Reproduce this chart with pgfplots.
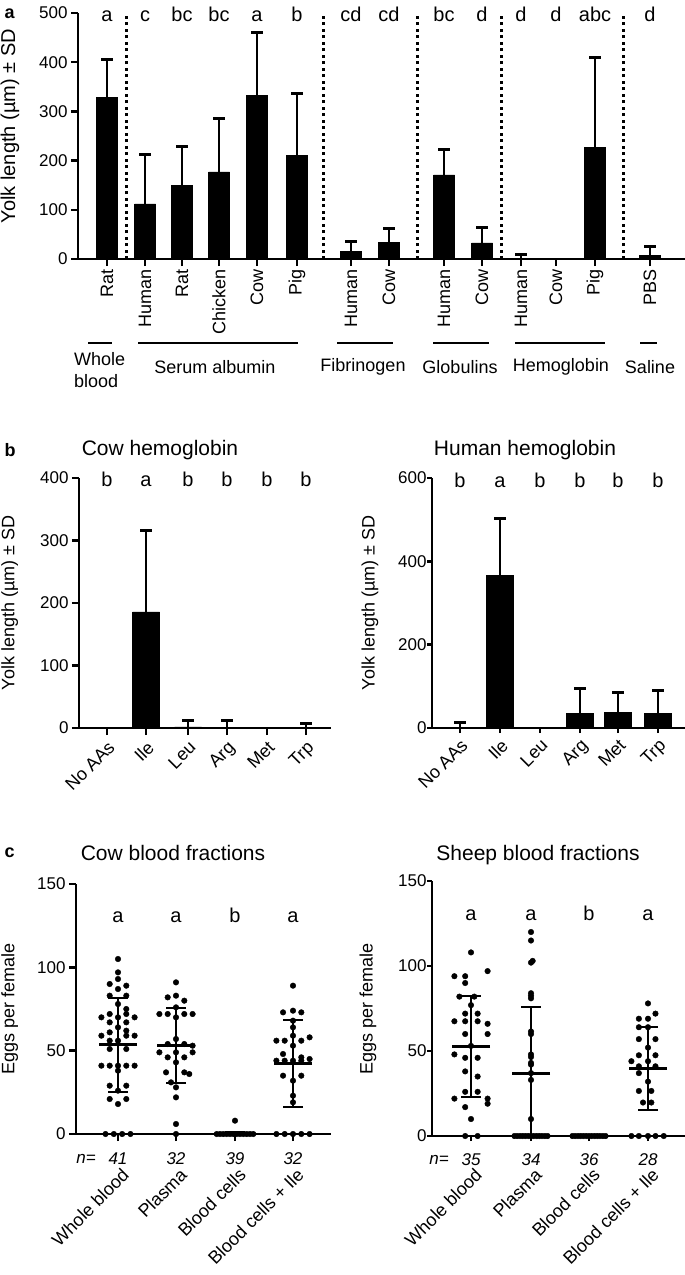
\documentclass[border=0pt]{standalone}
\usepackage{fontspec}
\setmainfont{Liberation Sans}
\usepackage{pgfplots}
\usepackage{pgfplotstable}
\pgfplotsset{compat=1.18}

\newcommand\tickfont{\fontsize{17}{20}\selectfont}
\newcommand\labfont{\fontsize{18}{22}\selectfont}
\newcommand\letfont{\fontsize{20}{24}\selectfont}
\newcommand\titfont{\fontsize{21}{25}\selectfont}

% scatter data: k = horizontal jitter step, v = eggs per female
\pgfplotstableread{
k v
0 105
0 97
0 93
-1 90
1 89
0 87
-1 83
1 83
0 78
1 75
-2 70
-1 72
0 70
1 72
2 70
-1 67
1 67
0 64
-1 61
1 62
-2 59
1 59
2 59
-1 56
0 56
-1 51
1 51
-2 41
-1 41
0 41
1 41
2 41
0 38
-1 29
1 29
0 26
-1 21
1 21
0 18
-1.5 0
-0.5 0
0.5 0
1.5 0
}\cowWB
\pgfplotstableread{
k v
0 91
0 83
-1 82
1 80
0 76
-2 72
-1 72
1 72
2 72
0 70
0 57
-1 54
1 54
2 53
-2 49
0 49
2 49
-1 46
1 46
0 43
-1.2 37
1 37
1.6 36
-0.6 31
0 28
0 22
0 6
0 0
}\cowPL
\pgfplotstableread{
k v
0 8
-2.2 0
-1.8 0
-1.4 0
-1 0
-0.6 0
-0.2 0
0.2 0
0.6 0
1 0
1.4 0
1.8 0
2.2 0
}\cowBC
\pgfplotstableread{
k v
0 89
-1.2 73
0 74
1 73
0 68
0 64
0 59
2 58
-2 56
-1 56
1 56
0 53
-1.2 48
1 46
-2 44
-1 44
0 44
1 44
2 45
-1.2 35
1 35
0 32
0 23
0 19
-2 0
-1 0
0 0
1 0
2 0
}\cowBI
\pgfplotstableread{
k v
0 108
2 97
-2 94
-0.7 94
-0.7 90
-1.4 82
0.4 82
0 77
-0.7 72
0.8 72
-2 67.5
-0.7 67.5
0.8 67.5
2 66
-0.7 60
2 60
0 53
-2 48
-0.7 46
0.8 46
-0.7 38
0.8 35
-0.7 26
0.8 26
-2 22
2 22
2 19
-0.7 17
0 10
-0.7 0
0.8 0
}\shWB
\pgfplotstableread{
k v
0 120
0 115
0.2 103
0 102
0 84
0 82.5
0 81
0 61.5
0 60
0 48
0 46.5
0 43
0 42
0 37
0 33
0 10
-2 0
-1.67 0
-1.33 0
-1 0
-0.67 0
-0.33 0
0 0
0.33 0
0.67 0
1 0
1.33 0
1.67 0
2 0
}\shPL
\pgfplotstableread{
k v
-2 0
-1.67 0
-1.33 0
-1 0
-0.67 0
-0.33 0
0 0
0.33 0
0.67 0
1 0
1.33 0
1.67 0
2 0
}\shBC
\pgfplotstableread{
k v
0 78
0.9 72
-1.1 69
0 69
-1.1 64
0 64
-1.1 57
0.9 57
0 52
-1.1 47.5
0.9 47.5
-2 44
0 44
-1.1 41
0.9 41
-1.1 37
0 32
-1.1 26.5
0.4 26.5
-0.6 19.7
0.4 19.7
-2 0
-1.1 0
0 0
0.9 0
1.9 0
}\shBI

\pgfplotsset{
  panel/.style={
    scale only axis, anchor=south west, clip=false,
    axis x line*=bottom, axis y line*=left,
    axis line style={line width=2.5pt},
    tick align=outside, major tick length=7pt,
    tick style={black, line width=2.5pt},
    /pgf/number format/assume math mode=true,
    tick label style={font=\tickfont},
    ylabel style={font=\labfont, anchor=center},
  },
  barsd/.style={ybar, fill=black, draw=black,
    error bars/.cd, y dir=plus, y explicit,
    error bar style={line width=2.2pt},
    error mark options={rotate=90, line width=3pt, mark size=6pt}},
  dots/.style={only marks, mark=*, mark size=2.8pt, black},
  meansd/.style={only marks, mark=-, mark size=19pt, black,
    mark options={line width=3pt},
    error bars/.cd, y dir=both, y explicit,
    error bar style={line width=2pt},
    error mark options={rotate=90, line width=2pt, mark size=10pt}},
}

\begin{document}
\begin{tikzpicture}
\useasboundingbox (0,0) rectangle (685pt,-1275pt);

% ---------------- panel a
\begin{axis}[panel, at={(78pt,-259pt)}, width=607pt, height=246pt,
  xmin=78, xmax=685, ymin=0, ymax=500,
  ytick={0,100,...,500},
  xtick={107,145,182,219,257,297,351,389,444,482,521,556,595,650},
  xticklabels={Rat,Human,Rat,Chicken,Cow,Pig,Human,Cow,Human,Cow,Human,Cow,Pig,PBS},
  xticklabel style={font=\labfont, rotate=90, anchor=east},
  ylabel={Yolk length (µm) ± SD},
  ylabel style={font=\fontsize{20}{24}\selectfont, at={(axis description cs:-0.112,0.54)}},
]
\addplot[bar width=21pt, barsd] coordinates {
  (107,328) +- (0,77)
  (145,112) +- (0,100)
  (182,150) +- (0,79)
  (219,177) +- (0,109)
  (257,333) +- (0,127)
  (297,211) +- (0,126)
  (351,16) +- (0,20)
  (389,34) +- (0,28)
  (444,171) +- (0,52)
  (482,33) +- (0,32)
  (521,1) +- (0,8)
  (595,227) +- (0,183)
  (650,7) +- (0,19)
};
\addplot[ybar, bar width=21pt, fill=black, draw=black] coordinates {(556,0)};
\foreach \s in {126,323,417,501,623}{
  \edef\tmp{\noexpand\draw[line width=3pt, dash pattern=on 3pt off 3.5pt] (axis cs:\s,0) -- (axis cs:\s,500);}
  \tmp
}
\foreach \x/\l in {107/a,145/c,182/bc,219/bc,257/a,297/b,351/cd,389/cd,444/bc,482/d,521/d,556/d,595/abc,650/d}{
  \edef\tmp{\noexpand\node[font=\noexpand\letfont, anchor=base] at (axis cs:\x,483) {\l};}
  \tmp
}
\end{axis}

\node[font=\labfont\bfseries, anchor=west] at (1pt,-14pt) {a};
\foreach \a/\b in {88/112,138/298,337/393,433/489,515/605,640/657}
  \draw[line width=2.5pt] (\a pt,-343pt) -- (\b pt,-343pt);
\node[font=\labfont, align=left, anchor=north west, inner sep=0pt] at (74pt,-352pt) {Whole\\blood};
\foreach \x/\l in {215/Serum albumin,363/Fibrinogen,460/Globulins,561/Hemoglobin,650/Saline}
  \node[font=\labfont] at (\x pt,-367pt) {\l};

% ---------------- panel b
\node[font=\labfont\bfseries, anchor=west] at (1pt,-450pt) {b};
\node[font=\titfont] at (160pt,-450pt) {Cow hemoglobin};
\node[font=\titfont] at (525pt,-450pt) {Human hemoglobin};

\begin{axis}[panel, at={(79pt,-728pt)}, width=252pt, height=250pt,
  xmin=79, xmax=331, ymin=0, ymax=400,
  ytick={0,100,...,400},
  xtick={107,146,188,227,267,306},
  xticklabels={No AAs,Ile,Leu,Arg,Met,Trp},
  xticklabel style={font=\labfont, rotate=45, anchor=north east},
  ylabel={Yolk length (µm) ± SD},
  ylabel style={at={(axis description cs:-0.275,0.5)}},
]
\addplot[bar width=27pt, barsd] coordinates {
  (146,186) +- (0,130)
  (188,2) +- (0,10)
  (227,1) +- (0,11)
  (306,1) +- (0,6)
};
\addplot[ybar, bar width=27pt, fill=black, draw=black] coordinates {(107,0) (267,0)};
\foreach \x/\l in {107/b,146/a,188/b,227/b,267/b,306/b}{
  \edef\tmp{\noexpand\node[font=\noexpand\letfont, anchor=base] at (axis cs:\x,386) {\l};}
  \tmp
}
\end{axis}

\begin{axis}[panel, at={(432pt,-728pt)}, width=253pt, height=250pt,
  xmin=432, xmax=685, ymin=0, ymax=600,
  ytick={0,200,400,600},
  major tick length=5pt,
  yticklabel style={xshift=3pt},
  xtick={460,500,540,580,618,658},
  xticklabels={No AAs,Ile,Leu,Arg,Met,Trp},
  xticklabel style={font=\labfont, rotate=45, anchor=north east},
  ylabel={Yolk length (µm) ± SD},
  ylabel style={at={(axis description cs:-0.245,0.5)}},
]
\addplot[bar width=27pt, barsd] coordinates {
  (460,0) +- (0,13)
  (500,366) +- (0,136)
  (580,36) +- (0,60)
  (618,38) +- (0,48)
  (658,36) +- (0,54)
};
\addplot[ybar, bar width=27pt, fill=black, draw=black] coordinates {(540,0)};
\foreach \x/\l in {460/b,500/a,540/b,580/b,618/b,658/b}{
  \edef\tmp{\noexpand\node[font=\noexpand\letfont, anchor=base] at (axis cs:\x,578) {\l};}
  \tmp
}
\end{axis}

% ---------------- panel c
\node[font=\labfont\bfseries, anchor=west] at (1pt,-853pt) {c};
\node[font=\titfont] at (173pt,-853pt) {Cow blood fractions};
\node[font=\titfont] at (538pt,-855pt) {Sheep blood fractions};

\begin{axis}[panel, at={(76pt,-1134pt)}, width=255pt, height=250pt,
  xmin=76, xmax=331, ymin=0, ymax=150,
  ytick={0,50,100,150},
  xtick={118,176,235,293},
  xticklabels={Whole blood,Plasma,Blood cells,Blood cells + Ile},
  xticklabel style={font=\labfont, rotate=45, anchor=north east, xshift=4pt},
  xticklabel shift=24pt,
  ylabel={Eggs per female},
  ylabel style={at={(axis description cs:-0.26,0.5)}},
]
\addplot[dots] table[x expr=118+8.3*\thisrow{k}, y=v] {\cowWB};
\addplot[dots] table[x expr=176+8.3*\thisrow{k}, y=v] {\cowPL};
\addplot[dots] table[x expr=235+8.3*\thisrow{k}, y=v] {\cowBC};
\addplot[dots] table[x expr=293+8.3*\thisrow{k}, y=v] {\cowBI};
\addplot[meansd] coordinates {
  (118,53.5) += (0,28) -= (0,28)
  (176,53) += (0,22.6) -= (0,22.6)
  (235,0.2) += (0,1.3) -= (0,0.2)
  (293,42.4) += (0,26) -= (0,26)
};
\foreach \x/\l in {118/a,176/a,235/b,293/a}{
  \edef\tmp{\noexpand\node[font=\noexpand\letfont, anchor=base] at (axis cs:\x,127) {\l};}
  \tmp
}
\foreach \x/\l in {118/41,176/32,235/39,293/32}{
  \edef\tmp{\noexpand\node[font=\noexpand\tickfont\noexpand\itshape] at (axis cs:\x,-15) {\l};}
  \tmp
}
\node[font=\tickfont\itshape] at (axis cs:86,-15) {n=};
\end{axis}

\begin{axis}[panel, at={(432pt,-1136pt)}, width=253pt, height=255pt,
  xmin=432, xmax=685, ymin=0, ymax=150,
  ytick={0,50,100,150},
  major tick length=5pt,
  yticklabel style={xshift=3pt},
  xtick={471,531,589,648},
  xticklabels={Whole blood,Plasma,Blood cells,Blood cells + Ile},
  xticklabel style={font=\labfont, rotate=45, anchor=north east, xshift=4pt},
  xticklabel shift=24pt,
  ylabel={Eggs per female},
  ylabel style={at={(axis description cs:-0.253,0.5)}},
]
\addplot[dots] table[x expr=471+8.3*\thisrow{k}, y=v] {\shWB};
\addplot[dots] table[x expr=531+8.3*\thisrow{k}, y=v] {\shPL};
\addplot[dots] table[x expr=589+8.3*\thisrow{k}, y=v] {\shBC};
\addplot[dots] table[x expr=648+8.3*\thisrow{k}, y=v] {\shBI};
\addplot[meansd] coordinates {
  (471,52.7) += (0,29.7) -= (0,29.7)
  (531,36.7) += (0,39.1) -= (0,36.7)
  (589,0) += (0,0) -= (0,0)
  (648,39.6) += (0,24.4) -= (0,24.4)
};
\foreach \x/\l in {471/a,531/a,589/b,648/a}{
  \edef\tmp{\noexpand\node[font=\noexpand\letfont, anchor=base] at (axis cs:\x,127) {\l};}
  \tmp
}
\foreach \x/\l in {471/35,531/34,589/36,648/28}{
  \edef\tmp{\noexpand\node[font=\noexpand\tickfont\noexpand\itshape] at (axis cs:\x,-14) {\l};}
  \tmp
}
\node[font=\tickfont\itshape] at (axis cs:439,-14) {n=};
\end{axis}
\end{tikzpicture}
\end{document}
